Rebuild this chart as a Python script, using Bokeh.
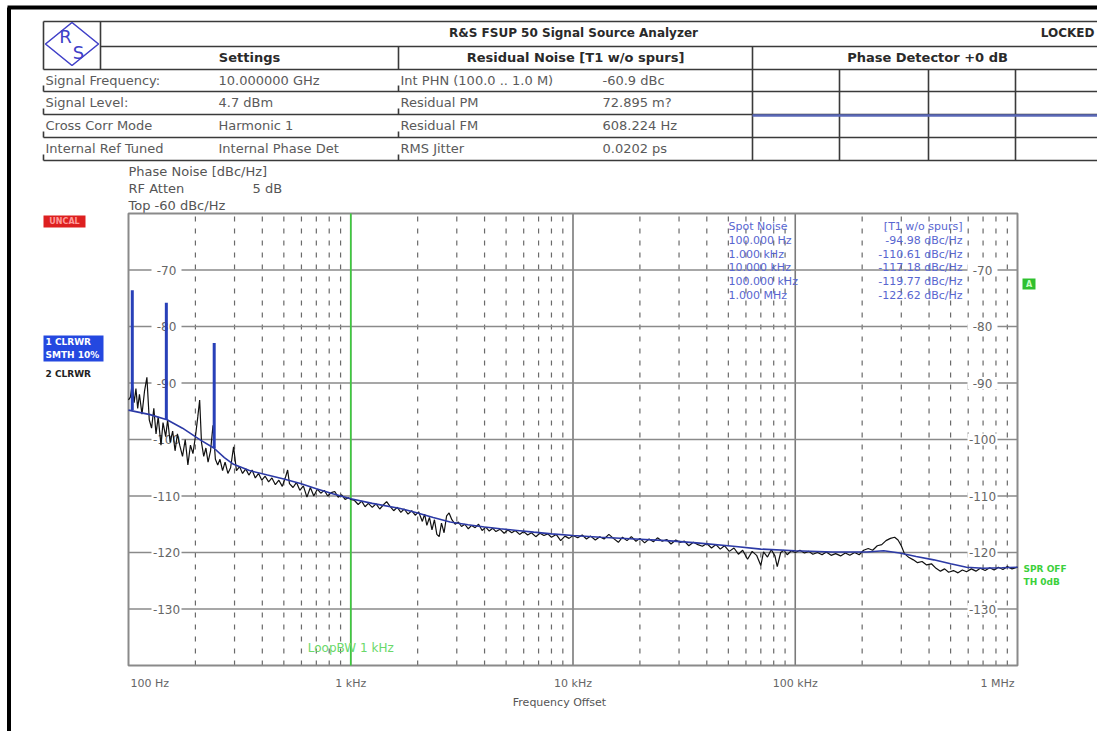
import numpy as np
from bokeh.plotting import figure
from bokeh.models import Range1d, LogScale
from bokeh.core.properties import value
from bokeh.embed import file_html
from bokeh.resources import INLINE

# ---------------- data ----------------
title = "R&S FSUP 50 Signal Source Analyzer"
status = "LOCKED"
col_headers = ["Settings", "Residual Noise [T1 w/o spurs]", "Phase Detector +0 dB"]
settings_labels = ["Signal Frequency:", "Signal Level:", "Cross Corr Mode", "Internal Ref Tuned"]
settings_values = ["10.000000 GHz", "4.7 dBm", "Harmonic 1", "Internal Phase Det"]
residual_labels = ["Int PHN (100.0  .. 1.0 M)", "Residual PM", "Residual FM", "RMS Jitter"]
residual_values = ["-60.9 dBc", "72.895 m?", "608.224 Hz", "0.0202 ps"]

spot_freq_labels = ["100.000 Hz", "1.000 kHz", "10.000 kHz", "100.000 kHz", "1.000 MHz"]
spot_values = ["-94.98 dBc/Hz", "-110.61 dBc/Hz", "-117.18 dBc/Hz", "-119.77 dBc/Hz", "-122.62 dBc/Hz"]

x_tick_f = [100, 1000, 10000, 100000, 1000000]
x_tick_text = ["100 Hz", "1 kHz", "10 kHz", "100 kHz", "1 MHz"]
db_ticks = [-70, -80, -90, -100, -110, -120, -130]
db_tick_text = ["-70", "-80", "-90", "-100", "-110", "-120", "-130"]
loop_bw = 1000

# trace 2 (raw, black)
black_f = [100, 102, 104, 106, 108, 110, 112, 115, 118, 121, 124, 127, 130, 133, 136, 140, 143, 147, 150, 154,
           158, 162, 166, 170, 175, 180, 185, 190, 195, 200, 205, 209, 213, 218, 223, 228, 234, 240, 246, 252,
           258, 265, 272, 280, 288, 297, 306, 316, 326, 337, 348, 360, 372, 385, 398, 412, 427, 442, 458, 475,
           492, 510, 520, 530, 550, 570, 590, 612, 635, 658, 682, 707, 733, 760, 788, 817, 847, 878, 910, 943,
           977, 1000,
           1040, 1080, 1120, 1160, 1200, 1250, 1300, 1350, 1400, 1450, 1500, 1560, 1620, 1680, 1740, 1810,
           1880, 1950, 2020, 2100, 2150, 2200, 2260, 2320, 2380, 2440, 2500, 2560, 2630, 2700, 2770, 2850,
           2950, 3050, 3150, 3260, 3380, 3500, 3630, 3760, 3900, 4050, 4200, 4350, 4500, 4700, 4900, 5100,
           5300, 5500, 5750, 6000, 6250, 6500, 6800, 7100, 7400, 7700, 8000, 8400, 8800, 9200, 9600, 10000,
           10500, 11000, 11500, 12000, 12600, 13200, 13800, 14500, 15200, 16000, 16700, 17500, 18300, 19200,
           20000, 21000, 22000, 23000, 24000, 25200, 26400, 27600, 29000, 30300, 31700, 33200, 34800, 36500,
           38200, 40000, 42000, 44000, 46000, 48000, 50500, 53000, 55500, 58000, 61000, 64000, 67000, 70000,
           72000, 75000, 78000, 81000, 83000, 86000, 89000, 92000, 96000, 100000,
           105000, 110000, 115000, 120000, 126000, 132000, 138000, 145000, 152000, 160000, 168000, 176000,
           185000, 194000, 203000, 213000, 223000, 234000, 245000, 256000, 268000, 280000, 290000, 300000,
           310000, 325000, 340000, 355000, 372000, 390000, 410000, 430000, 450000, 470000, 490000, 515000,
           540000, 565000, 590000, 620000, 650000, 680000, 715000, 750000, 785000, 820000, 860000, 900000,
           945000, 1000000]
black_db = [-93.0, -92.5, -90.0, -93.5, -91.0, -94.5, -92.0, -95.5, -91.5, -89.0, -96.5, -98.0, -94.5, -99.0,
            -96.0, -101.0, -97.0, -99.5, -96.5, -100.5, -98.5, -102.0, -99.0, -101.0, -103.0, -100.0, -104.5,
            -101.0, -102.5, -99.5, -96.0, -93.0, -100.5, -103.0, -101.5, -104.0, -102.0, -97.5, -103.5, -104.5,
            -103.5, -105.5, -104.0, -106.0, -105.0, -101.3, -105.5, -104.8, -106.0, -105.2, -106.3, -105.4,
            -106.8, -106.0, -107.2, -106.5, -107.5, -106.8, -108.0, -107.2, -108.3, -106.5, -105.4, -107.8,
            -108.5, -107.6, -109.0, -108.2, -110.2, -108.5, -110.0, -108.8, -109.5, -109.0, -110.0, -109.4,
            -109.2, -110.2, -109.8, -110.6, -110.3, -110.6,
            -110.8, -111.5, -110.9, -111.9, -111.3, -112.0, -111.4, -112.3, -111.6, -111.0, -111.8, -112.6,
            -112.0, -112.9, -112.3, -113.2, -112.6, -113.4, -112.8, -114.5, -113.2, -115.2, -113.8, -116.0,
            -114.2, -116.8, -117.2, -114.8, -116.5, -113.5, -113.0, -114.2, -115.0, -114.6, -115.4, -115.0,
            -115.8, -115.2, -115.6, -115.0, -116.1, -115.5, -116.2, -115.7, -116.3, -115.9, -116.6, -116.0,
            -116.5, -116.1, -116.8, -116.3, -116.9, -116.5, -117.2, -116.6, -117.0, -116.7, -117.3, -116.8,
            -117.9, -117.1, -117.5, -117.0,
            -117.4, -116.9, -117.6, -117.1, -117.8, -117.2, -117.6, -116.8, -117.5, -118.2, -117.3, -117.9,
            -117.2, -118.0, -117.5, -118.3, -117.6, -118.1, -117.4, -118.0, -117.7, -118.5, -117.8, -118.2,
            -118.0, -118.8, -118.2, -118.6, -118.9, -118.4, -119.2, -118.6, -119.4, -118.8, -119.8, -119.2,
            -120.3, -119.6, -121.2, -119.8, -120.5, -122.3, -119.9, -120.8, -119.5, -120.6, -122.5, -120.0,
            -119.6, -120.4, -119.7, -120.0,
            -119.6, -120.1, -119.8, -120.3, -120.0, -120.4, -119.9, -120.5, -120.2, -120.6, -120.1, -120.5,
            -120.0, -120.4, -119.6, -119.3, -119.6, -118.8, -118.6, -117.9, -117.5, -117.3, -117.8, -118.8,
            -120.2, -120.9, -121.3, -121.8, -121.6, -122.2, -122.0, -122.8, -123.3, -122.9, -123.5, -123.2,
            -123.6, -123.1, -123.4, -122.9, -123.3, -122.8, -123.2, -122.7, -123.1, -122.6, -123.0, -122.5,
            -122.9, -122.6]

# trace 1 (smoothed, blue)
blue_f = [100, 125, 149, 175, 211, 242, 270, 297, 350, 422, 500, 594, 700, 830, 1000, 1250, 1670, 2000,
          2350, 2800, 3370, 4000, 4700, 5600, 6660, 8000, 10000, 13300, 19000, 26400, 36000, 52600, 70000,
          100000, 147000, 210000, 250000, 295000, 350000, 420000, 500000, 590000, 700000, 850000, 1000000]
blue_db = [-94.8, -95.6, -96.5, -98.0, -100.1, -101.5, -103.2, -104.4, -105.5, -106.3, -107.0, -107.8,
           -108.7, -109.6, -110.5, -111.3, -112.2, -113.0, -113.8, -114.6, -115.1, -115.5, -115.8, -116.1,
           -116.4, -116.7, -117.0, -117.3, -117.6, -117.9, -118.3, -118.9, -119.4, -119.7, -119.9, -119.9,
           -119.7, -120.1, -120.7, -121.3, -122.0, -122.6, -122.8, -122.7, -122.6]

spur_f = [104, 148, 243]
spur_base = [-94.8, -96.5, -101.5]
spur_top = [-73.6, -75.8, -82.9]

# ---------------- layout ----------------
FX0, FX1 = 128, 1017     # x of 100 Hz and 1 MHz
FY0, FY1 = 213, 665      # y of -60 and -140 dBc/Hz
X0, X1, Y0, Y1 = 0, 1097, 0, 731
D = (FX1 - FX0) / 4.0
f_lo = 10 ** (2 - (FX0 - X0) / D)
f_hi = 10 ** (6 + (X1 - FX1) / D)
dpp = 80.0 / (FY1 - FY0)
db_top = -60 + (FY0 - Y0) * dpp
db_bot = -140 - (Y1 - FY1) * dpp

p = figure(width=X1 - X0, height=Y1 - Y0, x_range=Range1d(X0, X1), y_range=Range1d(Y1, Y0),
           x_axis_type=None, y_axis_type=None, toolbar_location=None, output_backend="svg",
           min_border=0, outline_line_color=None,
           background_fill_color="white", border_fill_color="white")
p.extra_x_ranges = {"f": Range1d(f_lo, f_hi)}
p.extra_x_scales = {"f": LogScale()}
p.extra_y_ranges = {"db": Range1d(db_bot, db_top)}

FONT = value("DejaVu Sans")


def txt(x, y, s, size="13px", color="#555555", align="left", style="normal", **kw):
    p.text(x=[x], y=[y], text=[s], text_font=FONT, text_font_size=size, text_color=color,
           text_align=align, text_baseline="middle", text_font_style=style, **kw)


# outer black border
p.segment(x0=[7, 8.5], y0=[7, 7], x1=[X1, 8.5], y1=[7, Y1], line_color="black", line_width=4)

# ---------------- header table ----------------
TL = "#3a3a3a"
hy = [21, 46, 69, 91, 114, 137, 160]
p.segment(x0=[43, 100, 43, 43, 43, 43, 43], y0=hy, x1=[1101] * 7, y1=hy, line_color=TL, line_width=1.6)
vx0 = [43, 100, 398, 752, 839, 928, 1015, 1101]
vy0 = [21, 21, 46, 46, 69, 69, 69, 21]
vy1 = [69, 69, 69, 160, 160, 160, 160, 160]
p.segment(x0=vx0, y0=vy0, x1=vx0, y1=vy1, line_color=TL, line_width=1.6)
tick_y = hy[3:]
p.segment(x0=[43] * 4, y0=[y - 6 for y in tick_y], x1=[43] * 4, y1=tick_y, line_color=TL, line_width=1.6)
p.segment(x0=[398] * 4, y0=[y - 6 for y in tick_y], x1=[398] * 4, y1=tick_y, line_color=TL, line_width=1.6)

# logo
p.patch(x=[45, 71.5, 98, 71.5], y=[43.5, 22, 43.5, 65], fill_color=None, line_color="#4040c8", line_width=1.6)
txt(65, 36, "R", size="18px", color="#4040c8", align="center")
txt(78, 52, "S", size="18px", color="#4040c8", align="center")

txt(573, 32, title, size="12px", color="#2a2a2a", align="center", style="bold")
txt(1094, 32, status, size="12px", color="#2a2a2a", align="right", style="bold")
txt(249, 57, col_headers[0], size="13px", color="#2a2a2a", align="center", style="bold")
txt(575, 57, col_headers[1], size="13px", color="#2a2a2a", align="center", style="bold")
txt(927, 57, col_headers[2], size="13px", color="#2a2a2a", align="center", style="bold")

row_y = [80, 102, 125, 148]
for xs, items in ((45, settings_labels), (218, settings_values), (400, residual_labels), (602, residual_values)):
    p.text(x=[xs] * 4, y=row_y, text=items, text_font=FONT, text_font_size="13px",
           text_color="#5a5a5a", text_baseline="middle")

# phase detector trace line
p.segment(x0=[752], y0=[115], x1=[1101], y1=[115], line_color="#5a68b8", line_width=2.5)

# ---------------- chart side texts ----------------
txt(128, 171, "Phase Noise [dBc/Hz]", size="13px", color="#555555")
txt(128, 188, "RF Atten", size="13px", color="#555555")
txt(252, 188, "5 dB", size="13px", color="#555555")
txt(128, 205, "Top  -60 dBc/Hz", size="13px", color="#555555")

p.quad(left=[43], right=[85], top=[215], bottom=[227], fill_color="#dd2020", line_color=None)
txt(64, 221, "UNCAL", size="8px", color="#ff9a9a", align="center", style="bold")
p.quad(left=[43], right=[103], top=[335], bottom=[361], fill_color="#2448e0", line_color=None)
txt(45, 341, "1 CLRWR", size="9px", color="white", style="bold")
txt(45, 354, "SMTH 10%", size="9px", color="white", style="bold")
txt(45, 373, "2 CLRWR", size="9px", color="#222222", style="bold")

p.quad(left=[1022], right=[1035], top=[278], bottom=[289], fill_color="#2fc02f", line_color=None)
txt(1028.5, 283.5, "A", size="8px", color="#c8ffc8", align="center", style="bold")
txt(1023, 568, "SPR OFF", size="9px", color="#3cd03c", style="bold")
txt(1023, 581, "TH 0dB", size="9px", color="#3cd03c", style="bold")

# ---------------- chart ----------------
minor_f = [m * d for d in [100, 1000, 10000, 100000] for m in range(2, 10)]
major_f = [1000, 10000, 100000]
kw = dict(x_range_name="f", y_range_name="db")
p.segment(x0=minor_f, y0=[-140] * len(minor_f), x1=minor_f, y1=[-60] * len(minor_f),
          line_color="#6a6a6a", line_width=1.2, line_dash="5 7", **kw)
p.segment(x0=major_f, y0=[-140] * 3, x1=major_f, y1=[-60] * 3, line_color="#7a7a7a", line_width=1.6, **kw)
p.segment(x0=[100] * len(db_ticks), y0=db_ticks, x1=[1e6] * len(db_ticks), y1=db_ticks,
          line_color="#8a8a8a", line_width=1.6, **kw)
p.quad(left=[100], right=[1e6], bottom=[-140], top=[-60], fill_color=None, line_color="#8a8a8a",
       line_width=2, **kw)

# y tick labels (left and right, inside the plot)
for cx in (166, 982):
    p.rect(x=[cx] * len(db_ticks), y=db_ticks, width=30, height=12, height_units="screen",
           fill_color="white", line_color=None, y_range_name="db")
    p.text(x=[cx] * len(db_ticks), y=db_ticks, text=db_tick_text, text_font=FONT, text_font_size="12px",
           text_color="#666666", text_align="center", text_baseline="middle", y_range_name="db")

# loop bandwidth marker
p.segment(x0=[loop_bw], y0=[-140], x1=[loop_bw], y1=[-60], line_color="#3ccc3c", line_width=1.6, **kw)
p.text(x=[loop_bw], y=[647], text=["LoopBW 1 kHz"], text_font=FONT, text_font_size="12px",
       text_color="#6ad86a", text_align="center", text_baseline="middle", x_range_name="f")

# spot noise table
sy = [226 + 13.8 * i for i in range(6)]
p.text(x=[728] * 6, y=sy, text=["Spot Noise"] + spot_freq_labels, text_font=FONT, text_font_size="11px",
       text_color="#5866d0", text_baseline="middle")
p.text(x=[962] * 6, y=sy, text=["[T1 w/o spurs]"] + spot_values, text_font=FONT, text_font_size="11px",
       text_color="#5866d0", text_align="right", text_baseline="middle")

# traces
p.line(black_f, black_db, line_color="#111111", line_width=1.2, **kw)
p.line(blue_f, blue_db, line_color="#2c3aa6", line_width=1.6, **kw)
p.segment(x0=spur_f, y0=spur_base, x1=spur_f, y1=spur_top, line_color="#2840b8", line_width=3, **kw)

# x tick labels
p.text(x=x_tick_f[:1], y=[683], text=x_tick_text[:1], text_font=FONT, text_font_size="11px",
       text_color="#666666", text_align="left", text_baseline="middle", x_offset=2, x_range_name="f")
p.text(x=x_tick_f[1:4], y=[683] * 3, text=x_tick_text[1:4], text_font=FONT, text_font_size="11px",
       text_color="#666666", text_align="center", text_baseline="middle", x_range_name="f")
p.text(x=x_tick_f[4:], y=[683], text=x_tick_text[4:], text_font=FONT, text_font_size="11px",
       text_color="#666666", text_align="right", text_baseline="middle", x_offset=-3, x_range_name="f")
txt(559, 702, "Frequency Offset", size="11px", color="#555555", align="center")

open("out.html", "w").write(file_html(p, INLINE))
